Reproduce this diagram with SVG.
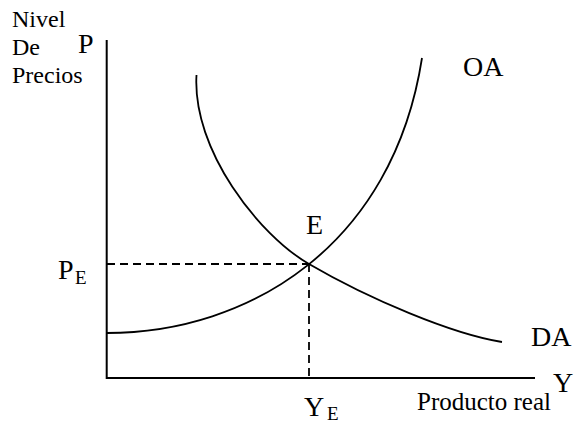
<svg xmlns="http://www.w3.org/2000/svg" width="576" height="425" viewBox="0 0 576 425" font-family="'Liberation Serif', 'Times New Roman', Times, serif">
<style>
text{font-family:'Liberation Serif','Times New Roman',Times,serif;fill:#000}
.big{font-size:28px}
.small{font-size:24px}
.sub{font-size:19px}
.axis{stroke:#000;stroke-width:2;fill:none}
.curve{stroke:#000;stroke-width:1.8;fill:none}
.dash{stroke:#000;stroke-width:1.8;fill:none;stroke-dasharray:8,5}
</style>
<rect width="576" height="425" fill="#fff"/>
<g id="axes">
<path class="axis" d="M106.7,40 V378 H535"/>
</g>
<g id="connectors">
<path class="dash" d="M107,264 H309"/>
<path class="dash" d="M309,264 V377"/>
</g>
<g id="OA">
<path class="curve" d="M106.7,333 C250,333 393,245 422,58"/>
<text class="big" x="463" y="76">OA</text>
</g>
<g id="DA">
<path class="curve" d="M196.5,75 C192,150 259,235 309,264 C369,299 452,334 502,342"/>
<text class="big" x="531" y="346">DA</text>
</g>
<g id="E">
<text class="big" x="306" y="234">E</text>
</g>
<g id="labels">
<text class="small" x="12" y="27">Nivel</text>
<text class="small" x="12" y="55">De</text>
<text class="small" x="12" y="83">Precios</text>
<text class="big" x="78" y="53">P</text>
<text class="big" x="58" y="279">P</text>
<text class="sub" x="75" y="284">E</text>
<text class="big" x="304" y="415.5">Y</text>
<text class="sub" x="327" y="419.5">E</text>
<text class="big" x="553" y="392">Y</text>
<text x="417" y="410" style="font-size:25px">Producto real</text>
</g>
</svg>
